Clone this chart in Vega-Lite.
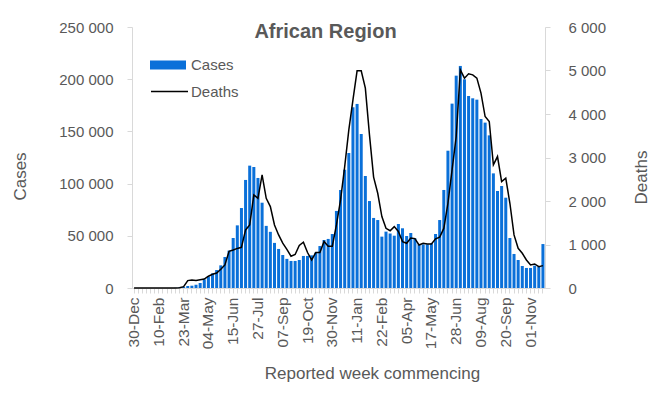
{
  "$schema": "https://vega.github.io/schema/vega-lite/v6.json",
  "width": 413,
  "height": 261,
  "autosize": {"type": "none"},
  "padding": {"left": 132, "top": 27, "right": 113, "bottom": 105},
  "background": "white",
  "config": {
    "view": {"stroke": null},
    "font": "Liberation Sans",
    "axis": {
      "grid": false,
      "domainColor": "#d9d9d9",
      "tickColor": "#d9d9d9",
      "labelColor": "#595959",
      "titleColor": "#595959",
      "labelFont": "Liberation Sans",
      "titleFont": "Liberation Sans",
      "titleFontWeight": "normal",
      "labelFontSize": 15,
      "titleFontSize": 17
    }
  },
  "title": {
    "text": "African Region",
    "font": "Liberation Sans",
    "fontSize": 20,
    "fontWeight": "bold",
    "color": "#595959",
    "anchor": "middle",
    "frame": "group",
    "offset": 0,
    "baseline": "alphabetic",
    "dy": 38,
    "dx": -13
  },
  "data": {
    "values": [
      {"w": "2019-12-30", "c": 0, "d": 0},
      {"w": "2020-01-06", "c": 0, "d": 0},
      {"w": "2020-01-13", "c": 0, "d": 0},
      {"w": "2020-01-20", "c": 0, "d": 0},
      {"w": "2020-01-27", "c": 0, "d": 0},
      {"w": "2020-02-03", "c": 0, "d": 0},
      {"w": "2020-02-10", "c": 0, "d": 0},
      {"w": "2020-02-17", "c": 0, "d": 0},
      {"w": "2020-02-24", "c": 5, "d": 0},
      {"w": "2020-03-02", "c": 30, "d": 0},
      {"w": "2020-03-09", "c": 150, "d": 2},
      {"w": "2020-03-16", "c": 500, "d": 8},
      {"w": "2020-03-23", "c": 1000, "d": 30},
      {"w": "2020-03-30", "c": 1900, "d": 170},
      {"w": "2020-04-06", "c": 2200, "d": 185},
      {"w": "2020-04-13", "c": 3200, "d": 170},
      {"w": "2020-04-20", "c": 4800, "d": 190},
      {"w": "2020-04-27", "c": 8300, "d": 205},
      {"w": "2020-05-04", "c": 10900, "d": 270},
      {"w": "2020-05-11", "c": 14000, "d": 315},
      {"w": "2020-05-18", "c": 17200, "d": 345},
      {"w": "2020-05-25", "c": 21700, "d": 430},
      {"w": "2020-06-01", "c": 29700, "d": 530},
      {"w": "2020-06-08", "c": 35800, "d": 845},
      {"w": "2020-06-15", "c": 47900, "d": 875},
      {"w": "2020-06-22", "c": 60000, "d": 910},
      {"w": "2020-06-29", "c": 76600, "d": 935},
      {"w": "2020-07-06", "c": 103500, "d": 1335},
      {"w": "2020-07-13", "c": 117200, "d": 1450},
      {"w": "2020-07-20", "c": 115900, "d": 2140},
      {"w": "2020-07-27", "c": 105400, "d": 2060},
      {"w": "2020-08-03", "c": 81700, "d": 2600},
      {"w": "2020-08-10", "c": 59500, "d": 2063},
      {"w": "2020-08-17", "c": 53800, "d": 1871},
      {"w": "2020-08-24", "c": 43200, "d": 1450},
      {"w": "2020-08-31", "c": 37400, "d": 1220},
      {"w": "2020-09-07", "c": 31600, "d": 1030},
      {"w": "2020-09-14", "c": 27900, "d": 890},
      {"w": "2020-09-21", "c": 25900, "d": 730},
      {"w": "2020-09-28", "c": 25900, "d": 770},
      {"w": "2020-10-05", "c": 26800, "d": 980},
      {"w": "2020-10-12", "c": 30700, "d": 1055},
      {"w": "2020-10-19", "c": 30700, "d": 815},
      {"w": "2020-10-26", "c": 31300, "d": 644},
      {"w": "2020-11-02", "c": 33900, "d": 815},
      {"w": "2020-11-09", "c": 40200, "d": 815},
      {"w": "2020-11-16", "c": 46000, "d": 1070},
      {"w": "2020-11-23", "c": 47000, "d": 960},
      {"w": "2020-11-30", "c": 51700, "d": 960},
      {"w": "2020-12-07", "c": 73800, "d": 1450},
      {"w": "2020-12-14", "c": 93900, "d": 2025},
      {"w": "2020-12-21", "c": 113300, "d": 2792},
      {"w": "2020-12-28", "c": 129300, "d": 3636},
      {"w": "2021-01-04", "c": 173100, "d": 4326},
      {"w": "2021-01-11", "c": 176300, "d": 4993},
      {"w": "2021-01-18", "c": 147500, "d": 4993},
      {"w": "2021-01-25", "c": 107300, "d": 4594},
      {"w": "2021-02-01", "c": 83300, "d": 3520},
      {"w": "2021-02-08", "c": 67100, "d": 2550},
      {"w": "2021-02-15", "c": 65100, "d": 2178},
      {"w": "2021-02-22", "c": 49200, "d": 1641},
      {"w": "2021-03-01", "c": 54000, "d": 1373},
      {"w": "2021-03-08", "c": 52200, "d": 1316},
      {"w": "2021-03-15", "c": 50100, "d": 1411},
      {"w": "2021-03-22", "c": 61300, "d": 1300},
      {"w": "2021-03-29", "c": 57200, "d": 1066},
      {"w": "2021-04-05", "c": 49800, "d": 1028},
      {"w": "2021-04-12", "c": 52700, "d": 1150},
      {"w": "2021-04-19", "c": 47600, "d": 1135},
      {"w": "2021-04-26", "c": 41800, "d": 989},
      {"w": "2021-05-03", "c": 41800, "d": 1028},
      {"w": "2021-05-10", "c": 41800, "d": 1012},
      {"w": "2021-05-17", "c": 42800, "d": 1012},
      {"w": "2021-05-24", "c": 51700, "d": 1130},
      {"w": "2021-05-31", "c": 65100, "d": 1170},
      {"w": "2021-06-07", "c": 93900, "d": 1370},
      {"w": "2021-06-14", "c": 131500, "d": 1948},
      {"w": "2021-06-21", "c": 176600, "d": 2715},
      {"w": "2021-06-28", "c": 203400, "d": 3482},
      {"w": "2021-07-05", "c": 212700, "d": 5016},
      {"w": "2021-07-12", "c": 199900, "d": 4824},
      {"w": "2021-07-19", "c": 183900, "d": 4924},
      {"w": "2021-07-26", "c": 181700, "d": 4900},
      {"w": "2021-08-02", "c": 180400, "d": 4824},
      {"w": "2021-08-09", "c": 161900, "d": 4479},
      {"w": "2021-08-16", "c": 158400, "d": 3942},
      {"w": "2021-08-23", "c": 146200, "d": 3827},
      {"w": "2021-08-30", "c": 109800, "d": 2830},
      {"w": "2021-09-06", "c": 92900, "d": 3022},
      {"w": "2021-09-13", "c": 97700, "d": 2447},
      {"w": "2021-09-20", "c": 86500, "d": 2523},
      {"w": "2021-09-27", "c": 47900, "d": 1948},
      {"w": "2021-10-04", "c": 32600, "d": 1220},
      {"w": "2021-10-11", "c": 26800, "d": 913},
      {"w": "2021-10-18", "c": 21100, "d": 798},
      {"w": "2021-10-25", "c": 19200, "d": 644},
      {"w": "2021-11-01", "c": 19200, "d": 529},
      {"w": "2021-11-08", "c": 21400, "d": 552},
      {"w": "2021-11-15", "c": 20400, "d": 491},
      {"w": "2021-11-22", "c": 42100, "d": 514}
    ]
  },
  "encoding": {
    "x": {
      "field": "w",
      "type": "ordinal",
      "scale": {"paddingInner": 0.27, "paddingOuter": 0.135},
      "axis": {
        "title": "Reported week commencing",
        "labelAngle": -90,
        "labelOverlap": false,
        "labelPadding": 4,
        "tickSize": 5,
        "labelFontSize": 15.5,
        "labelExpr": "((toDate(datum.value) - toDate('2019-12-30')) / 604800000) % 6 == 0 ? utcFormat(toDate(datum.value), '%d-%b') : ''",
        "titleX": 240,
        "titleY": 85,
        "titleAlign": "center",
        "titleBaseline": "middle"
      }
    }
  },
  "layer": [
    {
      "mark": {"type": "bar"},
      "encoding": {
        "y": {
          "field": "c",
          "type": "quantitative",
          "scale": {"domain": [0, 250000], "nice": false},
          "axis": {
            "title": "Cases",
            "values": [0, 50000, 100000, 150000, 200000, 250000],
            "labelExpr": "replace(format(datum.value, ','), ',', ' ')",
            "tickSize": 5,
            "labelPadding": 14,
            "titleAngle": -90,
            "titleX": -112,
            "titleY": 149,
            "titleAlign": "center",
            "titleBaseline": "middle"
          }
        },
        "fill": {
          "datum": "Cases",
          "type": "nominal",
          "scale": {"range": ["#0A70D9"]},
          "legend": {
            "title": null,
            "orient": "none",
            "legendX": 18,
            "legendY": 20,
            "padding": 0,
            "symbolType": "M-1,-0.25H1V0.25H-1Z",
            "symbolSize": 1296,
            "symbolStrokeWidth": 0,
            "labelFontSize": 15,
            "labelColor": "#595959",
            "labelFont": "Liberation Sans",
            "labelOffset": 5
          }
        }
      }
    },
    {
      "mark": {"type": "line", "strokeWidth": 1.5},
      "encoding": {
        "y": {
          "field": "d",
          "type": "quantitative",
          "scale": {"domain": [0, 6000], "nice": false},
          "axis": {
            "title": "Deaths",
            "orient": "right",
            "values": [0, 1000, 2000, 3000, 4000, 5000, 6000],
            "labelExpr": "replace(format(datum.value, ','), ',', ' ')",
            "tickSize": 5,
            "labelPadding": 18,
            "titleAngle": -90,
            "titleX": 96,
            "titleY": 150,
            "titleAlign": "center",
            "titleBaseline": "middle"
          }
        },
        "stroke": {
          "datum": "Deaths",
          "type": "nominal",
          "scale": {"range": ["#000000"]},
          "legend": {
            "title": null,
            "orient": "none",
            "legendX": 18,
            "legendY": 45,
            "padding": 0,
            "symbolType": "stroke",
            "symbolSize": 1369,
            "symbolStrokeWidth": 1.5,
            "labelFontSize": 15,
            "labelColor": "#595959",
            "labelFont": "Liberation Sans",
            "labelOffset": 2
          }
        }
      }
    }
  ],
  "resolve": {"scale": {"y": "independent"}}
}
